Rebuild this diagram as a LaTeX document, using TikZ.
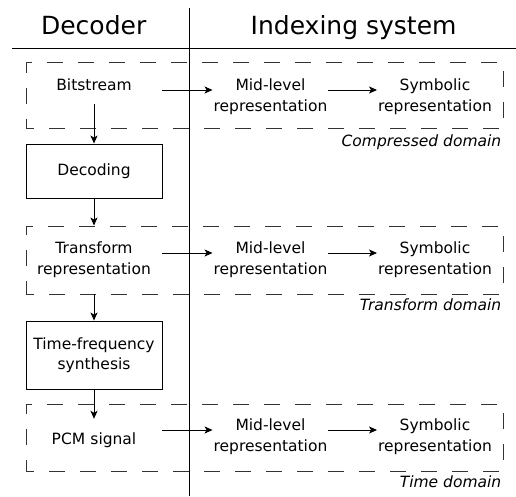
\documentclass[tikz,border=0pt]{standalone}
\usepackage{fontspec}
\setmainfont{DejaVu Sans}
\usetikzlibrary{arrows.meta}
\begin{document}
\begin{tikzpicture}[x=1pt,y=-1pt,line width=0.9pt,
    arr/.style={-{Stealth[length=8pt,width=7pt,inset=2pt]}},
    txt/.style={font=\fontsize{15.5}{21}\selectfont,align=center,text width=136pt,inner xsep=0pt,inner ysep=13pt},
    rep/.style={font=\fontsize{15.5}{21}\selectfont,align=center,text width=115pt,inner sep=0pt},
    blk/.style={draw,rectangle,font=\fontsize{15.5}{20.5}\selectfont,align=center,minimum width=136pt,inner sep=0pt},
    dombox/.style={draw,black!80,dash pattern=on 16pt off 15pt,dash phase=8pt,rectangle,minimum width=477pt,inner sep=0pt},
    dlab/.style={font=\fontsize{15.5}{19}\selectfont\itshape,inner sep=0pt,anchor=base east},
    head/.style={font=\fontsize{25}{30}\selectfont,inner sep=0pt,anchor=base}]
    \useasboundingbox (0,0) rectangle (516,496);
    %% Columns
    \draw (189,8) -- (189,496);
    \draw (12,48.5) -- (516,48.5);
    \node[head] (hdec) at (93.7,34) {Decoder};
    \node[head] (hidx) at (353.6,34) {Indexing system};
    %% Domains
    \node[dombox,minimum height=66.5pt] (dom1) at (264.5,95.25) {};
    \node[dombox,minimum height=68pt] (dom2) at (264.5,260) {};
    \node[dombox,minimum height=67pt] (dom3) at (264.5,437.5) {};
    \node[dlab] (lab1) at (501.7,146) {Compressed domain};
    \node[dlab] (lab2) at (501.7,310) {Transform domain};
    \node[dlab] (lab3) at (501.7,487) {Time domain};
    %% Decoder
    \node[txt,anchor=base] (bits) at (94,90) {Bitstream};
    \node[blk,minimum height=54pt] (dec) at (94,171) {Decoding};
    \node[txt,anchor=base] (trans) at (94,253) {Transform\\representation};
    \node[blk,minimum height=68pt] (tfs) at (94,355) {Time-frequency\\synthesis};
    \node[txt,anchor=base] (pcm) at (94,444) {PCM signal};
    %% Indexing
    \node[rep,anchor=base] (mid1) at (270.5,90) {Mid-level\\representation};
    \node[rep,anchor=base] (sym1) at (435,90) {Symbolic\\representation};
    \node[rep,anchor=base] (mid2) at (270.5,253) {Mid-level\\representation};
    \node[rep,anchor=base] (sym2) at (435,253) {Symbolic\\representation};
    \node[rep,anchor=base] (mid3) at (270.5,430) {Mid-level\\representation};
    \node[rep,anchor=base] (sym3) at (435,430) {Symbolic\\representation};
    %% Arrows
    \draw[arr] (bits.south) -- (dec.north);
    \draw[arr] (dec.south) -- (dec.south |- dom2.north);
    \draw[arr] (dec.south |- dom2.south) -- (tfs.north);
    \draw[arr] (tfs.south) -- (pcm.north);
    \draw[arr] (bits.base east) -- (mid1.base west);
    \draw[arr] (trans.base east) -- (mid2.base west);
    \draw[arr] (pcm.east |- mid3.base) -- (mid3.base west);
    \draw[arr] (mid1.base east) -- (sym1.base west);
    \draw[arr] (mid2.base east) -- (sym2.base west);
    \draw[arr] (mid3.base east) -- (sym3.base west);
\end{tikzpicture}
\end{document}
